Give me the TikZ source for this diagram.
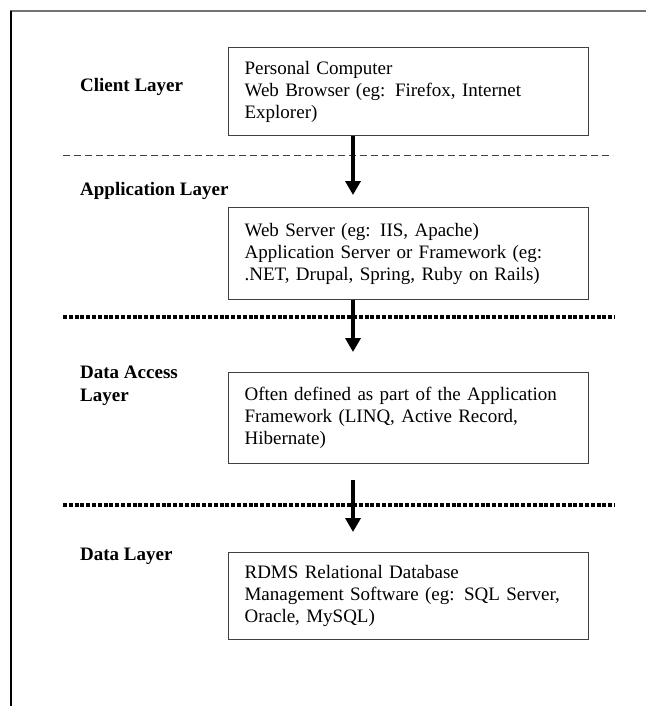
\documentclass[tikz,border=0pt]{standalone}
\usepackage{fontspec}
\setmainfont{Liberation Serif}
\usetikzlibrary{arrows.meta,calc}
\begin{document}
\begin{tikzpicture}[x=1pt,y=-1pt,
  layerbox/.style={draw=black!75, line width=1.2pt, anchor=north west,
    text width=328pt, inner xsep=16pt, inner ysep=0pt, align=left,
    font=\fontsize{19}{22}\selectfont},
  layerlabel/.style={anchor=west, inner sep=0pt, align=left,
    font=\fontsize{19}{23}\selectfont\bfseries},
  flow/.style={line width=4pt, -{Triangle[width=15pt,length=14pt]}},
  thinsep/.style={line width=1pt, black!75, dash pattern=on 7pt off 4pt},
  thicksep/.style={line width=3.5pt, dash pattern=on 4pt off 1.8pt}]
\useasboundingbox (0,0) rectangle (646,706);
\fill[white] (0,0) rectangle (646,706);

% page frame (top and left edges)
\draw[black!55, line width=1.3pt] (10,11) -- (646,11);
\draw[black, line width=1.3pt] (11,11) -- (11,706);

% layer names
\node[layerlabel] (lclient) at (80,87)  {Client Layer};
\node[layerlabel] (lapp)    at (80,191) {Application Layer};
\node[layerlabel] (lacc)    at (80,386) {Data Access\\Layer};
\node[layerlabel] (ldata)   at (80,556) {Data Layer};

% layer boxes
\node[layerbox, minimum height=88pt] (b1) at (228,47)
  {Personal Computer\\Web Browser (eg: Firefox, Internet\\Explorer)};
\node[layerbox, minimum height=92pt] (b2) at (228,207)
  {Web Server (eg: IIS, Apache)\\Application Server or Framework (eg:\\.NET, Drupal, Spring, Ruby on Rails)};
\node[layerbox, minimum height=91pt] (b3) at (228,372)
  {Often defined as part of the Application\\Framework (LINQ, Active Record,\\Hibernate)};
\node[layerbox, minimum height=87pt] (b4) at (228,552)
  {RDMS Relational Database\\Management Software (eg: SQL Server,\\Oracle, MySQL)};

% separators between layers
\draw[thinsep]  (63,155) -- (613,155);
\draw[thicksep] (63,317) -- (615,317);
\draw[thicksep] (63,505) -- (615,505);

% request flow
\coordinate (axis) at (353,0);
\draw[flow, shorten >=12pt] (b1.south -| axis) -- (b2.north -| axis);
\draw[flow, shorten >=20pt] (b2.south -| axis) -- (b3.north -| axis);
\draw[flow, shorten <=16pt, shorten >=20pt] (b3.south -| axis) -- (b4.north -| axis);
\end{tikzpicture}
\end{document}
